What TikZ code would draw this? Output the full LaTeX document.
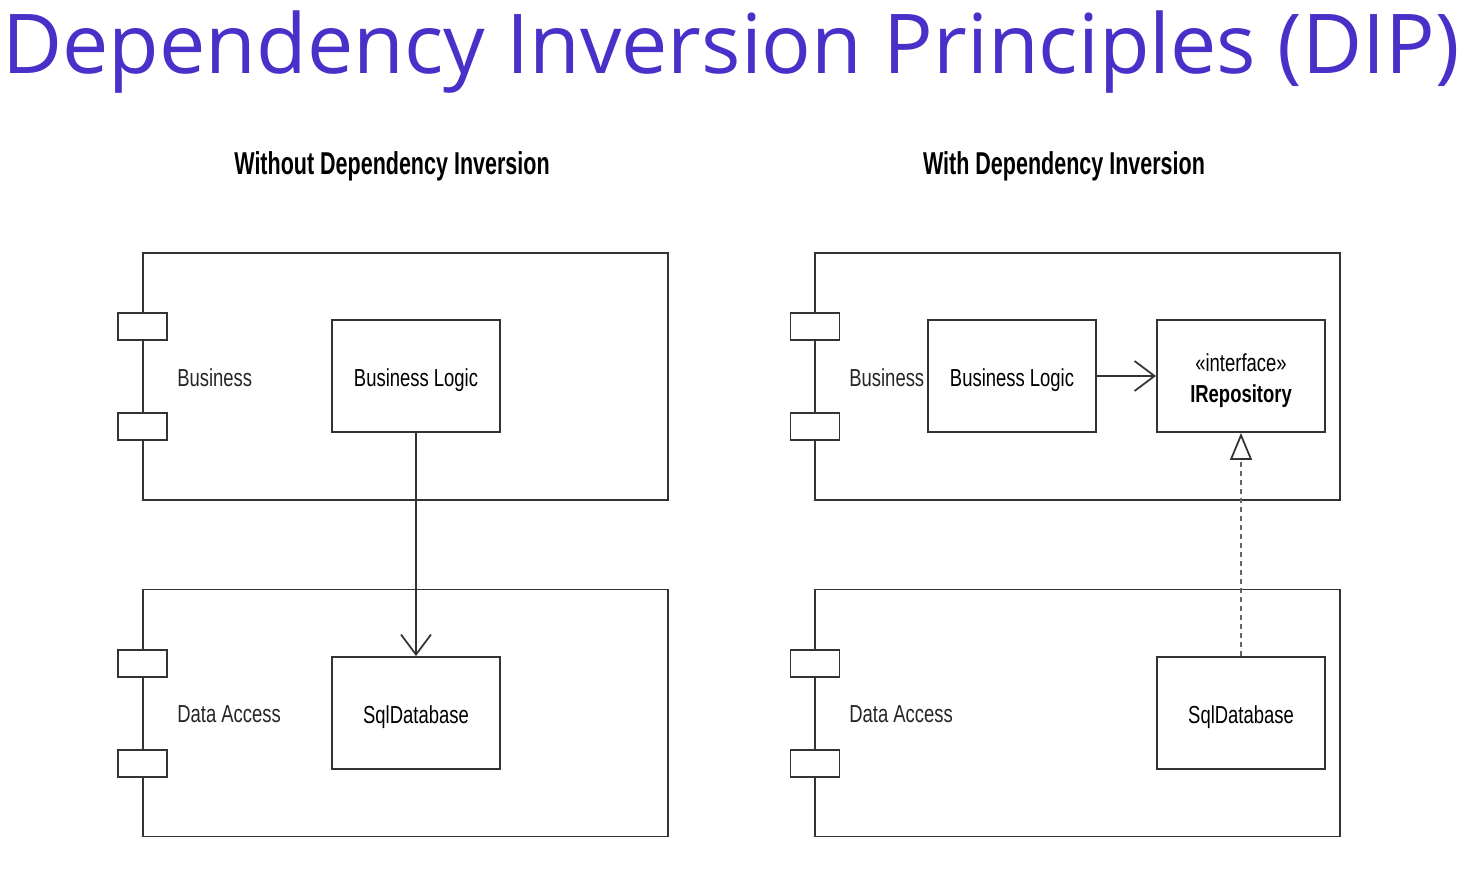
\documentclass[tikz,border=0pt]{standalone}
\usepackage{fontspec}
\setmainfont{Liberation Sans}
\newfontfamily\narrowfont{Liberation Sans}[FakeStretch=0.75]
\newfontfamily\headfont{Liberation Sans}[FakeStretch=0.68]
\newfontfamily\titlefont{Open Sans}
\usetikzlibrary{arrows.meta,positioning}
\definecolor{dipviolet}{HTML}{4B2FC9}
\colorlet{umlline}{black!80}

\begin{document}
\begin{tikzpicture}[x=0.02cm,y=-0.02cm,
    component/.style={draw=umlline, line width=1.1pt, minimum width=10.5cm,
      minimum height=4.94cm, inner sep=0pt},
    port/.style={draw=umlline, fill=white, line width=1.1pt, minimum width=0.98cm,
      minimum height=0.54cm, inner sep=0pt},
    classbox/.style={draw=umlline, line width=1.1pt, minimum width=3.36cm,
      minimum height=2.24cm, inner sep=0pt,
      text height=12.5pt, text depth=0pt,
      font=\narrowfont\fontsize{14}{18}\selectfont},
    complabel/.style={anchor=west, inner sep=0pt, text=black!85,
      font=\narrowfont\fontsize{14}{16}\selectfont},
    heading/.style={inner sep=0pt, font=\headfont\bfseries\fontsize{18}{20}\selectfont},
    >={Straight Barb[length=0.4cm, width=0.6cm, line width=1pt]}]

  \useasboundingbox (0,0) rectangle (1473,891);

  % title
  \node[anchor=west, inner sep=0pt, text=dipviolet,
    font=\titlefont\fontsize{47}{50}\selectfont] (title) at (2,52)
    {Dependency Inversion Principles (DIP)};

  % left side: without inversion
  \node[heading] (headA) at (392,166) {Without Dependency Inversion};

  \node[component] (busA) at (405.5,376.5) {};
  \node[port] (busAp1) at (142.5,326.5) {};
  \node[port] (busAp2) at (142.5,426.5) {};
  \node[complabel] (busAname) at (177,378) {Business};
  \node[classbox] (logicA) at (416,376) {Business Logic};

  \node[component] (dataA) at (405.5,713) {};
  \node[port] (dataAp1) at (142.5,663.5) {};
  \node[port] (dataAp2) at (142.5,763.5) {};
  \node[complabel] (dataAname) at (177,714) {Data Access};
  \node[classbox] (sqlA) at (416,713) {SqlDatabase};

  \draw[->, umlline, line width=1pt] (logicA) -- (sqlA);

  % right side: with inversion
  \node[heading] (headB) at (1064,166) {With Dependency Inversion};

  \node[component] (busB) at (1077.5,376.5) {};
  \node[port] (busBp1) at (815,326.5) {};
  \node[port] (busBp2) at (815,426.5) {};
  \node[complabel] (busBname) at (849,378) {Business};
  \node[classbox] (logicB) at (1012,376) {Business Logic};
  \node[classbox, align=center, text height=30.7pt, text depth=0pt] (repo) at (1241,376)
    {\guillemotleft interface\guillemotright\\\bfseries IRepository};

  \node[component] (dataB) at (1077.5,713) {};
  \node[port] (dataBp1) at (815,663.5) {};
  \node[port] (dataBp2) at (815,763.5) {};
  \node[complabel] (dataBname) at (849,714) {Data Access};
  \node[classbox] (sqlB) at (1241,713) {SqlDatabase};

  \draw[->, umlline, line width=1pt] (logicB) -- (repo);
  \draw[-{Triangle[open, length=0.54cm, width=0.44cm, line width=1pt, color=umlline]},
    black!60, line width=1pt, dash pattern=on 0.1cm off 0.08cm] (sqlB) -- (repo);
\end{tikzpicture}
\end{document}
